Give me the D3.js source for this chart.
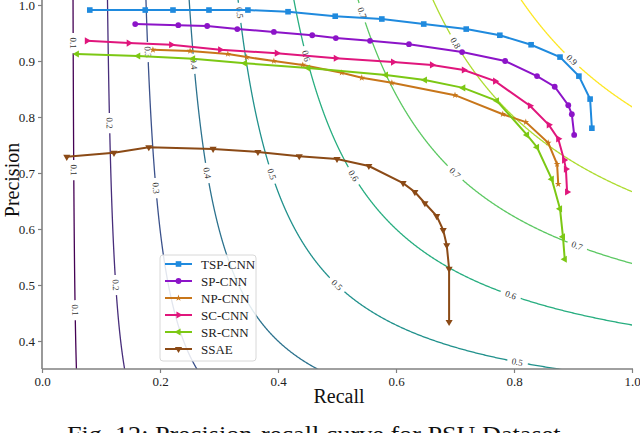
<!DOCTYPE html>
<html>
<head>
    <title>Precision-recall curve for PSU Dataset</title>
    <script src="https://d3js.org/d3.v7.min.js"></script>
    <style>
        body { margin: 0; background: white; }
        svg { display: block; }
        text { font-family: "Liberation Serif", "DejaVu Serif", serif; }
    </style>
</head>
<body>
    <svg width="640" height="433"></svg>

    <script>
        // Series (recall, precision)
        const names = ["TSP-CNN", "SP-CNN", "NP-CNN", "SC-CNN", "SR-CNN", "SSAE"];
        const colors = ["#1f8ade", "#8c14c8", "#c8761a", "#e0167c", "#7cc814", "#8b4a16"];
        const markers = ["square", "circle", "star", "right", "left", "down"];

        const tspRecall = [0.081, 0.175, 0.222, 0.283, 0.349, 0.417, 0.497, 0.576, 0.647, 0.719, 0.776, 0.829, 0.878, 0.910, 0.929, 0.932];
        const tspPrecision = [0.991, 0.991, 0.991, 0.991, 0.991, 0.988, 0.980, 0.975, 0.966, 0.957, 0.946, 0.929, 0.907, 0.873, 0.832, 0.780];

        const spRecall = [0.158, 0.231, 0.280, 0.331, 0.393, 0.458, 0.498, 0.556, 0.622, 0.712, 0.785, 0.839, 0.869, 0.892, 0.898, 0.902];
        const spPrecision = [0.966, 0.964, 0.9625, 0.957, 0.952, 0.946, 0.941, 0.936, 0.930, 0.916, 0.900, 0.873, 0.854, 0.821, 0.805, 0.768];

        const npRecall = [0.188, 0.251, 0.315, 0.347, 0.393, 0.442, 0.508, 0.542, 0.593, 0.700, 0.781, 0.820, 0.858, 0.873, 0.875];
        const npPrecision = [0.920, 0.918, 0.9125, 0.907, 0.900, 0.893, 0.879, 0.870, 0.861, 0.839, 0.805, 0.791, 0.754, 0.716, 0.680];

        const scRecall = [0.076, 0.147, 0.219, 0.302, 0.398, 0.498, 0.595, 0.661, 0.715, 0.768, 0.827, 0.859, 0.875, 0.885, 0.888, 0.890];
        const scPrecision = [0.936, 0.932, 0.929, 0.920, 0.914, 0.905, 0.898, 0.893, 0.884, 0.864, 0.820, 0.786, 0.761, 0.723, 0.707, 0.666];

        const srRecall = [0.059, 0.163, 0.256, 0.344, 0.451, 0.583, 0.649, 0.714, 0.771, 0.822, 0.839, 0.864, 0.878, 0.883, 0.886];
        const srPrecision = [0.9125, 0.909, 0.904, 0.896, 0.8875, 0.875, 0.866, 0.852, 0.829, 0.768, 0.746, 0.689, 0.636, 0.586, 0.546];

        const ssaeRecall = [0.042, 0.122, 0.181, 0.290, 0.366, 0.436, 0.500, 0.554, 0.612, 0.632, 0.649, 0.669, 0.680, 0.686, 0.690, 0.690];
        const ssaePrecision = [0.729, 0.736, 0.746, 0.743, 0.7375, 0.730, 0.725, 0.7125, 0.682, 0.666, 0.646, 0.623, 0.598, 0.571, 0.529, 0.434];

        const recalls = [tspRecall, spRecall, npRecall, scRecall, srRecall, ssaeRecall];
        const precisions = [tspPrecision, spPrecision, npPrecision, scPrecision, srPrecision, ssaePrecision];

        // iso F-measure levels and where their inline labels sit (as precision values)
        const fLevels = [0.1, 0.2, 0.3, 0.4, 0.5, 0.6, 0.7, 0.8, 0.9];
        const labelPrecision = [
            [0.932, 0.705, 0.455],
            [0.789, 0.5],
            [0.916, 0.673],
            [0.895, 0.7],
            [0.986, 0.698, 0.5, 0.3625],
            [0.909, 0.695, 0.482],
            [0.986, 0.7, 0.57],
            [0.932],
            [0.902]
        ];

        const xTicks = [0.0, 0.2, 0.4, 0.6, 0.8, 1.0];
        const yTicks = [0.4, 0.5, 0.6, 0.7, 0.8, 0.9, 1.0];

        const svg = d3.select("svg");
        const x = d3.scaleLinear().domain([0, 1]).range([42, 632]);
        const y = d3.scaleLinear().domain([0.35, 1.0]).range([369, 5]);
        const plotTop = 0;

        svg.append("clipPath").attr("id", "plot")
            .append("rect")
            .attr("x", x(0)).attr("y", plotTop)
            .attr("width", x(1) - x(0)).attr("height", y(0.35) - plotTop);

        // contour lines
        const contours = svg.append("g").attr("clip-path", "url(#plot)");
        const labelsG = svg.append("g");
        const gap = 10;

        fLevels.forEach((f, li) => {
            const color = d3.interpolateViridis((f - 0.1) / 0.8);
            const pts = [];
            for (let p = 1.03; p >= 0.33; p -= 0.0005) {
                if (2 * p <= f) continue;
                const r = f * p / (2 * p - f);
                if (r > 1.03 || r < -0.01) continue;
                pts.push({ p: p, sx: x(r), sy: y(p) });
            }
            const centers = labelPrecision[li].map(lp => {
                let best = 0;
                pts.forEach((d, i) => { if (Math.abs(d.p - lp) < Math.abs(pts[best].p - lp)) best = i; });
                const a = pts[Math.max(best - 20, 0)], b = pts[Math.min(best + 20, pts.length - 1)];
                let ang = Math.atan2(b.sy - a.sy, b.sx - a.sx) * 180 / Math.PI;
                if (ang > 90) ang -= 180;
                if (ang < -90) ang += 180;
                return { sx: pts[best].sx, sy: pts[best].sy, ang: ang };
            });
            // split into segments around the labels
            const segs = [];
            let cur = [];
            pts.forEach(d => {
                const hidden = centers.some(c => Math.hypot(d.sx - c.sx, d.sy - c.sy) < gap);
                if (hidden) {
                    if (cur.length > 1) segs.push(cur);
                    cur = [];
                } else cur.push(d);
            });
            if (cur.length > 1) segs.push(cur);

            contours.selectAll(null).data(segs).enter().append("path")
                .attr("d", d3.line().x(d => d.sx).y(d => d.sy))
                .attr("fill", "none")
                .attr("stroke", color)
                .attr("stroke-width", 1.3);

            centers.forEach(c => {
                labelsG.append("text")
                    .attr("transform", `translate(${c.sx},${c.sy}) rotate(${c.ang})`)
                    .attr("text-anchor", "middle")
                    .attr("dy", "0.33em")
                    .attr("font-size", 9)
                    .attr("fill", "#333")
                    .text(f.toFixed(1));
            });
        });

        // axes
        const axisColor = "#808080";
        const xAxis = svg.append("g")
            .attr("transform", `translate(0,${y(0.35)})`)
            .call(d3.axisBottom(x).tickValues(xTicks).tickFormat(d3.format(".1f")).tickSizeOuter(0).tickSize(4).tickPadding(4));
        const yAxis = svg.append("g")
            .attr("transform", `translate(${x(0)},0)`)
            .call(d3.axisLeft(y).tickValues(yTicks).tickFormat(d3.format(".1f")).tickSizeOuter(0).tickSize(4).tickPadding(3));
        [xAxis, yAxis].forEach(g => {
            g.select(".domain").remove();
            g.selectAll("line").attr("stroke", axisColor).attr("stroke-width", 1.2);
            g.selectAll("text").attr("font-family", "Liberation Serif, serif").attr("font-size", 13).attr("fill", "#222");
        });
        svg.append("line").attr("x1", x(0)).attr("x2", x(1) + 1).attr("y1", y(0.35)).attr("y2", y(0.35))
            .attr("stroke", axisColor).attr("stroke-width", 1.6);
        svg.append("line").attr("x1", x(0)).attr("x2", x(0)).attr("y1", y(0.35)).attr("y2", plotTop)
            .attr("stroke", axisColor).attr("stroke-width", 1.6);

        // marker shapes
        function marker(sel, kind, color) {
            if (kind === "square") {
                sel.append("rect").attr("x", -2.8).attr("y", -2.8).attr("width", 5.6).attr("height", 5.6).attr("fill", color);
            } else if (kind === "circle") {
                sel.append("circle").attr("r", 2.9).attr("fill", color);
            } else if (kind === "star") {
                sel.append("path").attr("d", d3.symbol(d3.symbolStar, 14)()).attr("fill", color);
            } else {
                const rot = { right: 90, left: -90, down: 180 }[kind];
                sel.append("path").attr("d", d3.symbol(d3.symbolTriangle, 22)())
                    .attr("transform", `rotate(${rot})`).attr("fill", color);
            }
        }

        // series
        const seriesG = svg.append("g");
        names.forEach((name, i) => {
            const data = recalls[i].map((r, j) => ({ r: r, p: precisions[i][j] }));
            seriesG.append("path")
                .datum(data)
                .attr("fill", "none")
                .attr("stroke", colors[i])
                .attr("stroke-width", 2)
                .attr("d", d3.line().x(d => x(d.r)).y(d => y(d.p)));
            seriesG.selectAll(null).data(data).enter().append("g")
                .attr("transform", d => `translate(${x(d.r)},${y(d.p)})`)
                .each(function () { marker(d3.select(this), markers[i], colors[i]); });
        });

        // legend
        const legend = svg.append("g");
        legend.append("rect")
            .attr("x", 160).attr("y", 255).attr("width", 96).attr("height", 106)
            .attr("rx", 3).attr("fill", "white").attr("fill-opacity", 0.85)
            .attr("stroke", "#d8d8d8");
        names.forEach((name, i) => {
            const ly = 264 + i * 17;
            legend.append("line").attr("x1", 165).attr("x2", 192).attr("y1", ly).attr("y2", ly)
                .attr("stroke", colors[i]).attr("stroke-width", 2);
            const m = legend.append("g").attr("transform", `translate(178.5,${ly})`);
            marker(m, markers[i], colors[i]);
            legend.append("text").attr("x", 201).attr("y", ly).attr("dy", "0.35em")
                .attr("font-size", 13).attr("fill", "#222").text(name);
        });

        // axis titles
        svg.append("text").attr("x", 339).attr("y", 403).attr("text-anchor", "middle")
            .attr("font-size", 20).attr("fill", "#111").text("Recall");
        svg.append("text").attr("transform", `translate(19,180) rotate(-90)`).attr("text-anchor", "middle")
            .attr("font-size", 20).attr("fill", "#111").text("Precision");

        // caption (cut by the picture edge, as in the figure)
        svg.append("text").attr("x", 67).attr("y", 442)
            .attr("font-size", 24).attr("fill", "#111")
            .attr("textLength", 500).attr("lengthAdjust", "spacingAndGlyphs")
            .text("Fig. 12: Precision-recall curve for PSU Dataset.");
    </script>
</body>
</html>
